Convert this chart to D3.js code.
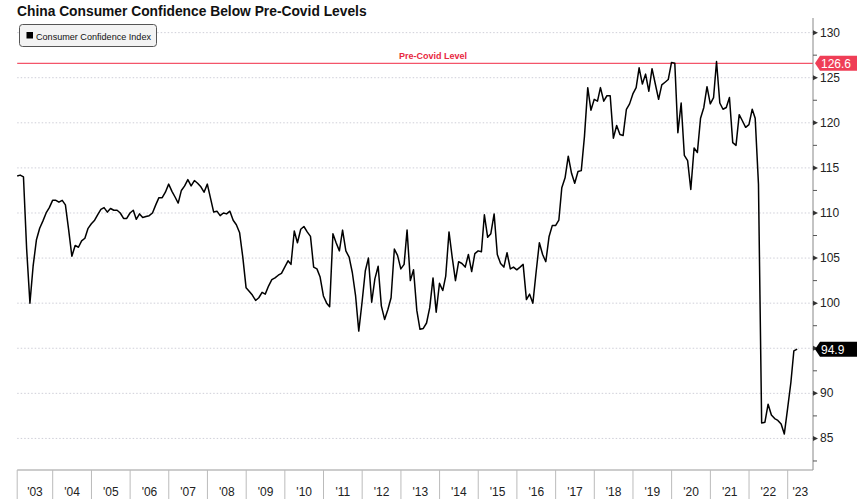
<!DOCTYPE html>
<html lang="en">
<head>
  <meta charset="UTF-8">
  <title>China Consumer Confidence Below Pre-Covid Levels</title>
  <script src="https://d3js.org/d3.v7.min.js"></script>
  <style>
    body { margin: 0; background: #fff; }
    svg { display: block; }
    .lbl { font-family: "Liberation Sans", Arial, sans-serif; font-size: 12px; fill: #222; }
  </style>
</head>
<body>
  <div id="chart"></div>

  <script>
    // Consumer Confidence Index, monthly, one row per year from Jan 2003
    const firstYear = 2003;
    const cciByYear = [
      [114.1, 114.2, 114.0, 106.0, 100.0, 104.1, 107.0, 108.3, 109.1, 110.0, 110.6, 111.4],
      [111.4, 111.2, 111.4, 110.9, 108.1, 105.2, 106.4, 106.2, 106.9, 107.2, 108.3, 108.8],
      [109.2, 109.8, 110.4, 110.6, 110.1, 110.5, 110.3, 110.3, 110.0, 109.4, 109.4, 110.0],
      [110.3, 109.3, 109.9, 109.5, 109.6, 109.7, 110.0, 110.9, 111.7, 111.7, 112.3, 113.2],
      [112.4, 111.8, 111.1, 112.5, 113.0, 113.7, 113.0, 113.6, 113.3, 112.9, 112.3, 113.2],
      [111.6, 110.1, 110.2, 109.7, 110.0, 109.9, 110.2, 109.2, 108.7, 107.8, 105.1, 101.7],
      [101.3, 100.9, 100.3, 100.6, 101.2, 101.0, 101.9, 102.6, 102.8, 103.1, 103.3, 104.0],
      [104.7, 104.3, 108.0, 106.7, 108.2, 108.5, 107.9, 107.4, 104.0, 103.8, 102.9, 100.8],
      [100.0, 99.6, 107.7, 106.7, 105.8, 108.1, 105.8, 105.1, 103.4, 100.8, 96.9, 100.1],
      [103.6, 105.0, 100.1, 102.7, 104.1, 99.7, 98.2, 99.3, 100.6, 106.0, 105.3, 103.8],
      [104.3, 108.1, 102.5, 103.7, 99.2, 97.1, 97.2, 97.8, 99.5, 102.8, 99.0, 102.2],
      [101.4, 103.0, 107.9, 105.1, 102.5, 104.6, 104.4, 104.0, 105.4, 103.5, 105.5, 105.8],
      [105.7, 109.8, 107.3, 107.7, 109.9, 105.4, 104.4, 104.0, 105.6, 103.8, 104.0, 103.7],
      [104.0, 104.3, 100.4, 101.0, 100.0, 103.4, 106.7, 105.4, 104.6, 107.4, 108.6, 108.6],
      [109.2, 112.8, 113.9, 116.3, 114.4, 113.3, 114.6, 114.7, 118.5, 123.9, 121.4, 122.6],
      [122.4, 123.9, 122.4, 123.0, 123.0, 118.3, 119.7, 118.7, 118.6, 121.5, 122.1, 123.2],
      [123.9, 126.1, 124.3, 125.4, 123.5, 126.0, 124.3, 122.6, 124.2, 124.5, 124.8, 126.7],
      [126.6, 118.9, 122.2, 116.4, 115.8, 112.6, 117.2, 116.7, 120.5, 121.7, 124.0, 122.1],
      [122.8, 126.8, 122.2, 121.5, 121.7, 122.8, 117.8, 117.5, 120.9, 120.2, 119.5, 119.8],
      [121.5, 120.5, 113.2, 86.7, 86.8, 88.8, 87.6, 87.2, 87.0, 86.6, 85.5, 88.3],
      [91.2, 94.7, 94.9]
    ];
    const preCovidLevel = 126.6;
    const yTicks = [85, 90, 95, 100, 105, 110, 115, 120, 125, 130];
    const yMinorTicks = [82.5, 87.5, 92.5, 97.5, 102.5, 107.5, 112.5, 117.5, 122.5, 127.5];
    const yearLabels = ["'03", "'04", "'05", "'06", "'07", "'08", "'09", "'10", "'11", "'12",
      "'13", "'14", "'15", "'16", "'17", "'18", "'19", "'20", "'21", "'22", "'23"];

    const width = 861, height = 499;
    const plotLeft = 17.2, plotRight = 813, plotTop = 20, plotBottom = 470;

    // month-end dates
    const data = [];
    cciByYear.forEach((row, i) => row.forEach((v, j) => {
      data.push({ date: new Date(firstYear + i, j + 1, 0), value: v });
    }));
    const last = data[data.length - 1];

    const x = d3.scaleTime()
      .domain([new Date(2004, 0, 1), new Date(2023, 0, 1)])
      .range([52.7, 787.7]);
    const y = d3.scaleLinear().domain([81.5, 131.4]).range([plotBottom, plotTop]);

    const svg = d3.select("#chart").append("svg")
      .attr("width", width)
      .attr("height", height);

    // title
    svg.append("text")
      .attr("x", 17).attr("y", 16)
      .style("font-family", "'Liberation Sans', Arial, sans-serif")
      .style("font-weight", "bold")
      .style("font-size", "13.8px")
      .attr("fill", "#111")
      .text("China Consumer Confidence Below Pre-Covid Levels");

    // grid
    svg.append("g").selectAll("line")
      .data(yTicks)
      .enter().append("line")
      .attr("x1", plotLeft).attr("x2", plotRight)
      .attr("y1", d => y(d)).attr("y2", d => y(d))
      .attr("stroke", "#cfcfd8")
      .attr("stroke-dasharray", "1.5,2");

    // pre-covid line
    svg.append("line")
      .attr("x1", plotLeft).attr("x2", plotRight)
      .attr("y1", y(preCovidLevel)).attr("y2", y(preCovidLevel))
      .attr("stroke", "#f4556a").attr("stroke-width", 1.2);
    svg.append("text")
      .attr("x", 433).attr("y", y(preCovidLevel) - 4)
      .attr("text-anchor", "middle")
      .style("font-family", "'Liberation Sans', Arial, sans-serif")
      .style("font-weight", "bold")
      .style("font-size", "9px")
      .attr("fill", "#e8283f")
      .text("Pre-Covid Level");

    // legend
    const legend = svg.append("g");
    legend.append("rect")
      .attr("x", 19.5).attr("y", 24.5).attr("width", 137).attr("height", 22).attr("rx", 3)
      .attr("fill", "#f3f3f3").attr("stroke", "#555");
    legend.append("rect")
      .attr("x", 26.5).attr("y", 32).attr("width", 6.5).attr("height", 6.5)
      .attr("fill", "#000");
    legend.append("text")
      .attr("x", 36).attr("y", 40)
      .attr("textLength", 115).attr("lengthAdjust", "spacingAndGlyphs")
      .style("font-family", "'Liberation Sans', Arial, sans-serif")
      .style("font-size", "9.5px")
      .attr("fill", "#111")
      .text("Consumer Confidence Index");

    // line
    const line = d3.line().x(d => x(d.date)).y(d => y(d.value));
    svg.append("path")
      .datum(data)
      .attr("fill", "none")
      .attr("stroke", "#000")
      .attr("stroke-width", 1.5)
      .attr("stroke-linejoin", "round")
      .attr("d", line);

    // right axis
    const axisG = svg.append("g");
    axisG.append("line")
      .attr("x1", plotRight).attr("x2", plotRight).attr("y1", plotTop - 2).attr("y2", plotBottom)
      .attr("stroke", "#888");
    axisG.selectAll(".major")
      .data(yTicks)
      .enter().append("path")
      .attr("d", d => `M${plotRight},${y(d) - 2.5}L${plotRight + 5},${y(d)}L${plotRight},${y(d) + 2.5}Z`)
      .attr("fill", "#333");
    axisG.selectAll(".minor")
      .data(yMinorTicks)
      .enter().append("line")
      .attr("x1", plotRight).attr("x2", plotRight + 4)
      .attr("y1", d => y(d)).attr("y2", d => y(d))
      .attr("stroke", "#555");
    // tick labels hidden where a value flag sits on top of them
    axisG.selectAll(".lbl")
      .data(yTicks.filter(t => Math.abs(t - last.value) > 1 && Math.abs(t - preCovidLevel) > 1))
      .enter().append("text")
      .attr("class", "lbl")
      .attr("x", plotRight + 7).attr("y", d => y(d) + 4)
      .text(d => d);

    // value flags on right axis
    function flag(v, color, label) {
      const yy = y(v);
      svg.append("path")
        .attr("d", `M${plotRight + 2},${yy}L${plotRight + 7},${yy - 7.5}H${plotRight + 44}V${yy + 7.5}H${plotRight + 7}Z`)
        .attr("fill", color);
      svg.append("text")
        .attr("class", "lbl")
        .attr("x", plotRight + 8).attr("y", yy + 4.5)
        .style("fill", "#fff")
        .text(label);
    }
    flag(preCovidLevel, "#ef3e56", preCovidLevel.toFixed(1));
    flag(last.value, "#000", last.value.toFixed(1));

    // bottom axis
    const xAxis = svg.append("g");
    xAxis.append("line")
      .attr("x1", plotLeft).attr("x2", plotRight).attr("y1", plotBottom).attr("y2", plotBottom)
      .attr("stroke", "#999");
    const years = d3.range(firstYear, firstYear + yearLabels.length);
    const bounds = years.map(yr => Math.max(plotLeft, x(new Date(yr, 0, 1))));
    xAxis.selectAll(".sep")
      .data(bounds)
      .enter().append("line")
      .attr("x1", d => d).attr("x2", d => d)
      .attr("y1", plotBottom).attr("y2", height)
      .attr("stroke", "#bbb");
    xAxis.selectAll(".yr")
      .data(years)
      .enter().append("text")
      .attr("class", "lbl")
      .attr("text-anchor", "middle")
      .attr("x", (yr, i) => (bounds[i] + Math.min(plotRight, x(new Date(yr + 1, 0, 1)))) / 2)
      .attr("y", 496)
      .text((yr, i) => yearLabels[i]);
  </script>
</body>
</html>
